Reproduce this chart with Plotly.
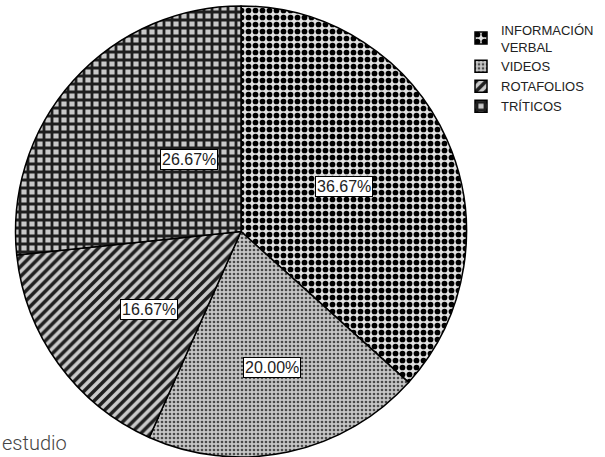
import math
import plotly.graph_objects as go

# Data
categories = ["INFORMACIÓN<br>VERBAL", "VIDEOS", "ROTAFOLIOS", "TRÍTICOS"]
counts = [11, 6, 5, 8]

# Fill patterns per slice
pat_shapes = [".", ".", "/", "+"]
pat_fg = ["#000000", "#4a4a4a", "#1e1e1e", "#1e1e1e"]
pat_bg = ["#e0e0e0", "#c6c6c6", "#cacaca", "#c8c8c8"]
pat_size = [7, 4, 7, 8]
pat_solidity = [0.52, 0.35, 0.5, 0.58]

# Label radial placement (fraction of radius)
label_frac = [0.5, 0.66, 0.66, 0.48]

W, H = 605, 457
cx_px, cy_px, r_px = 241, 232, 226  # pie centre/radius in pixels (y from top)

dom_x = [(cx_px - r_px) / W, (cx_px + r_px) / W]
dom_y = [max(0.0, (H - cy_px - r_px) / H), (H - cy_px + r_px) / H]

fig = go.Figure(go.Pie(
    labels=categories,
    values=counts,
    sort=False,
    direction="clockwise",
    rotation=0,
    textinfo="none",
    hoverinfo="label+percent",
    domain=dict(x=dom_x, y=dom_y),
    marker=dict(
        colors=pat_bg,
        line=dict(color="#000000", width=1.5),
        pattern=dict(
            shape=pat_shapes,
            fgcolor=pat_fg,
            bgcolor=pat_bg,
            size=pat_size,
            solidity=pat_solidity,
            fillmode="replace",
        ),
    ),
))

# Percentage boxes placed at each slice's mid-angle
total = sum(counts)
annotations = []
cum = 0
for v, f in zip(counts, label_frac):
    theta = 2 * math.pi * (cum + v / 2) / total
    cum += v
    x_px = cx_px + f * r_px * math.sin(theta)
    y_px = cy_px - f * r_px * math.cos(theta)
    annotations.append(dict(
        x=x_px / W, y=1 - y_px / H, xref="paper", yref="paper",
        text=f"{100 * v / total:.2f}%",
        showarrow=False,
        font=dict(family="Liberation Sans, Arial, sans-serif", size=16, color="#222222"),
        bgcolor="#ffffff", bordercolor="#000000", borderwidth=1, borderpad=1,
    ))

annotations.append(dict(
    x=0.0, y=0.0, xref="paper", yref="paper", xanchor="left", yanchor="bottom",
    text="estudio", showarrow=False,
    font=dict(family="Roboto, Open Sans, sans-serif", size=20, color="#444444", weight=300),
))

fig.update_layout(
    width=W, height=H,
    margin=dict(l=0, r=0, t=0, b=0),
    paper_bgcolor="#ffffff",
    plot_bgcolor="#ffffff",
    annotations=annotations,
    legend=dict(
        x=0.762, y=0.968, xanchor="left", yanchor="top",
        font=dict(family="Liberation Sans, Arial, sans-serif", size=13, color="#222222"),
        bgcolor="rgba(0,0,0,0)",
        itemwidth=30,
        tracegroupgap=0,
    ),
)

fig.write_html("out.html")
